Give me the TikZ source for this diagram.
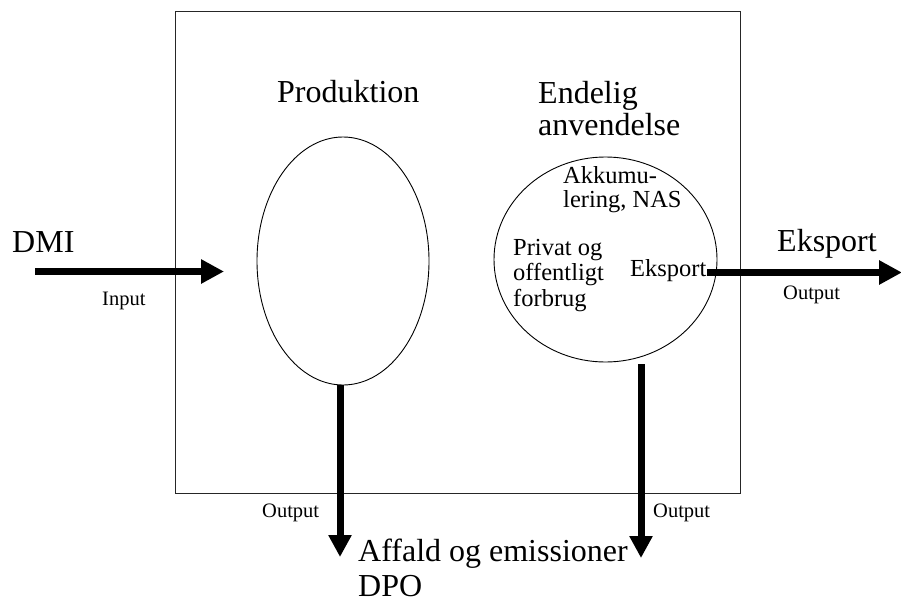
\documentclass[tikz,border=0pt]{standalone}
\usepackage{fontspec}
\setmainfont{Liberation Serif}
\usetikzlibrary{shapes.geometric,arrows.meta}
\begin{document}
\begin{tikzpicture}[x=1pt,y=-1pt,
  big/.style={font=\fontsize{32}{36}\selectfont},
  mid/.style={font=\fontsize{24.5}{28}\selectfont},
  small/.style={font=\fontsize{20.5}{24}\selectfont},
  txt/.style={inner sep=0pt,anchor=base west},
  flow/.style={line width=7pt,-{Triangle[length=23pt,width=23pt]}},
  dflow/.style={line width=7pt,-{Triangle[length=22pt,width=22pt]}},
  outline/.style={draw=black,line width=0.9pt}]
\useasboundingbox (0,0) rectangle (901,602);

% economy boundary
\node[outline,draw=black!85,minimum width=565pt,minimum height=482pt,inner sep=0pt] (economy) at (457.5,252) {};

% production and final use
\node[outline,ellipse,minimum width=172pt,minimum height=248pt,inner sep=0pt] (prod) at (343,261) {};
\node[outline,ellipse,minimum width=223pt,minimum height=205pt,inner sep=0pt] (final) at (605.5,259.5) {};

% headings
\node[txt,big] (prodlbl) at (277,102) {Produktion};
\node[txt,big] (endlbl1) at (538,103) {Endelig};
\node[txt,big] (endlbl2) at (538,135) {anvendelse};

% contents of final use
\node[txt,mid] (akk1) at (563,183) {Akkumu-};
\node[txt,mid] (akk2) at (563,207) {lering, NAS};
\node[txt,mid] (priv1) at (513,255) {Privat og};
\node[txt,mid] (priv2) at (513,280) {offentligt};
\node[txt,mid] (priv3) at (513,306) {forbrug};
\node[txt,mid] (ekin) at (630,276) {Eksport};

% outside labels
\node[txt,big] (dmi) at (12,252) {DMI};
\node[txt,big] (ekout) at (777,251) {Eksport};
\node[txt,big] (waste1) at (358,561) {Affald og emissioner};
\node[txt,big] (waste2) at (358,596) {DPO};

\node[txt,small] (inlbl) at (102,305) {Input};
\node[txt,small] (outr) at (783,299) {Output};
\node[txt,small] (outbl) at (262,517) {Output};
\node[txt,small] (outbr) at (653,517) {Output};

% flow end points
\coordinate (dmistart) at (35,271.5);
\coordinate (dmiend) at (224,271.5);
\coordinate (ekstart) at (707,272.5);
\coordinate (ekend) at (902,272.5);
\coordinate (prodout) at (340,385);
\coordinate (wasteA) at (340,557);
\coordinate (finalout) at (641,364);
\coordinate (wasteB) at (641,558);

% flows
\draw[flow] (dmistart) -- (dmiend);
\draw[flow] (ekstart) -- (ekend);
\draw[dflow] (prodout) -- (wasteA);
\draw[dflow] (finalout) -- (wasteB);
\end{tikzpicture}
\end{document}
